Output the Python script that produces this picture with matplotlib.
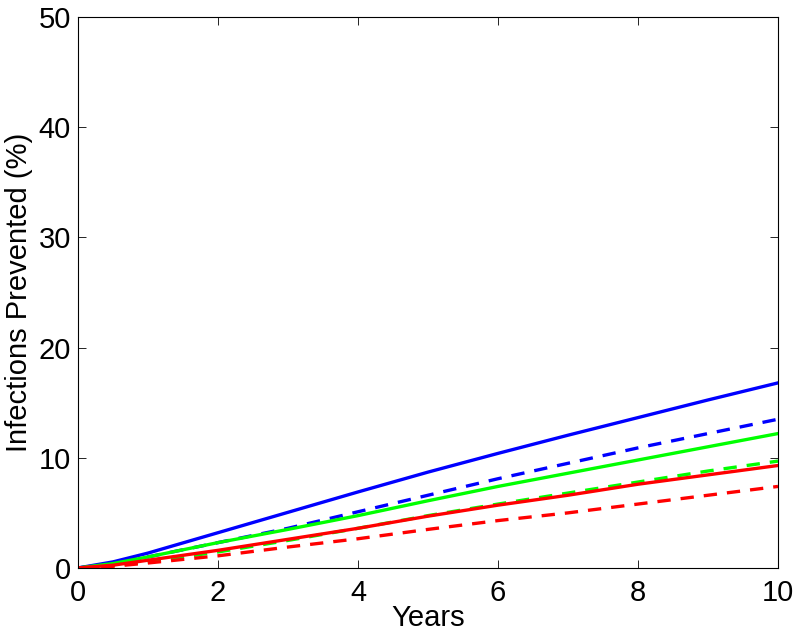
import matplotlib.pyplot as plt

years = [0, 0.5, 1, 2, 3, 4, 5, 6, 7, 8, 9, 10]

blue_solid = [0, 0.55, 1.35, 3.2, 5.05, 6.9, 8.7, 10.4, 12.05, 13.65, 15.25, 16.8]
blue_dashed = [0, 0.4, 1.0, 2.3, 3.6, 5.1, 6.6, 8.1, 9.5, 10.9, 12.2, 13.5]
green_solid = [0, 0.4, 1.0, 2.3, 3.5, 4.75, 6.1, 7.4, 8.6, 9.8, 11.0, 12.2]
green_dashed = [0, 0.2, 0.55, 1.45, 2.5, 3.6, 4.75, 5.8, 6.8, 7.8, 8.8, 9.7]
red_solid = [0, 0.25, 0.7, 1.6, 2.6, 3.6, 4.7, 5.7, 6.6, 7.6, 8.45, 9.3]
red_dashed = [0, 0.15, 0.45, 1.1, 1.9, 2.65, 3.5, 4.3, 5.0, 5.8, 6.6, 7.4]

plt.rcParams['font.family'] = ['Liberation Sans', 'DejaVu Sans']

fig = plt.figure(figsize=(8, 6.36), dpi=100)
ax = fig.add_axes([0.0975, 0.107, 0.875, 0.866])

lw = 2.4
ax.plot(years, blue_solid, color='#0000ff', lw=lw)
ax.plot(years, blue_dashed, color='#0000ff', lw=lw, ls='--', dashes=(4, 3))
ax.plot(years, green_solid, color='#00ff00', lw=lw)
ax.plot(years, green_dashed, color='#00ff00', lw=lw, ls='--', dashes=(4, 3))
ax.plot(years, red_solid, color='#ff0000', lw=lw)
ax.plot(years, red_dashed, color='#ff0000', lw=lw, ls='--', dashes=(4, 3))

ax.set_xlim(0, 10)
ax.set_ylim(0, 50)
ax.set_xticks([0, 2, 4, 6, 8, 10])
ax.set_yticks([0, 10, 20, 30, 40, 50])
ax.tick_params(direction='in', top=True, right=True, labelsize=21, length=6, width=0.6)
ax.tick_params(axis='x', pad=8)
ax.tick_params(axis='y', pad=5)
for s in ax.spines.values():
    s.set_linewidth(0.8)
ax.set_xlabel('Years', fontsize=21, labelpad=-2)
ax.set_ylabel('Infections Prevented (%)', fontsize=21, labelpad=4)

plt.savefig('out.png')
